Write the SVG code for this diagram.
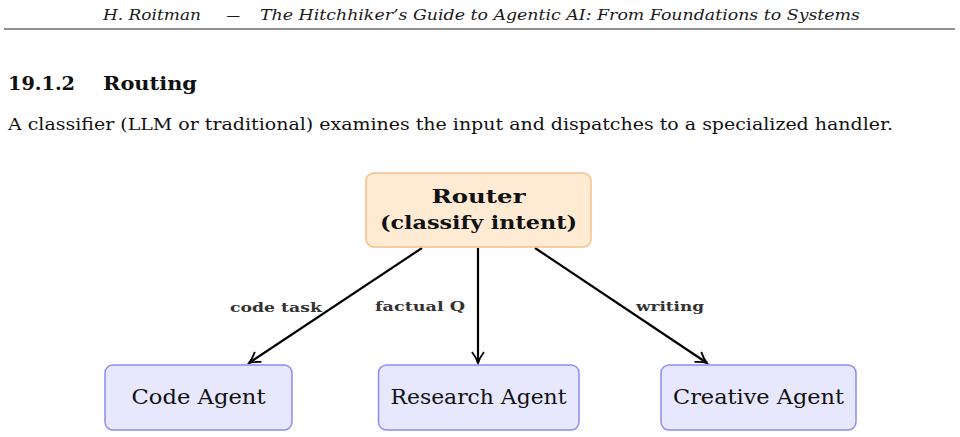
<svg xmlns="http://www.w3.org/2000/svg" width="960" height="437" viewBox="0 0 960 437">
<style>
text{font-family:"DejaVu Serif","Liberation Serif",serif}
.hdr{font-style:italic;font-size:15px;fill:#1a1a1a}
.sec{font-weight:bold;font-size:19px;fill:#111}
.para{font-size:16px;fill:#111}
.router{fill:#FFEAD3;stroke:#F7BE86;stroke-width:1.5}
.agent{fill:#E7E7FD;stroke:#8C8CF7;stroke-width:1.5}
.rt{font-weight:bold;font-size:19px;fill:#111;text-anchor:middle}
.at{font-size:20px;fill:#111;text-anchor:middle}
.lbl{font-weight:bold;font-size:13px;fill:#333}
.edge{stroke:#000;stroke-width:2.2;fill:none;marker-end:url(#arr)}
</style>
<defs>
<marker id="arr" viewBox="0 0 14 14" refX="12" refY="7" markerWidth="14" markerHeight="14" markerUnits="userSpaceOnUse" orient="auto">
<path d="M1,1 Q7,5.5 12,7 Q7,8.5 1,13" fill="none" stroke="#000" stroke-width="1.8"/>
</marker>
</defs>
<text class="hdr" x="103" y="20" textLength="98" lengthAdjust="spacingAndGlyphs">H. Roitman</text>
<text class="hdr" x="226.5" y="20" textLength="13.5" lengthAdjust="spacingAndGlyphs">—</text>
<text class="hdr" x="260" y="20" textLength="600" lengthAdjust="spacingAndGlyphs">The Hitchhiker’s Guide to Agentic AI: From Foundations to Systems</text>
<line x1="4" y1="29" x2="955" y2="29" stroke="#222" stroke-width="1"/>
<text class="sec" x="8" y="90" textLength="67" lengthAdjust="spacingAndGlyphs">19.1.2</text>
<text class="sec" x="103" y="90" textLength="94" lengthAdjust="spacingAndGlyphs">Routing</text>
<text class="para" x="8" y="130" textLength="885" lengthAdjust="spacingAndGlyphs">A classifier (LLM or traditional) examines the input and dispatches to a specialized handler.</text>
<g id="connectors">
<line class="edge" x1="422" y1="248" x2="249" y2="363"/>
<line class="edge" x1="478" y1="248" x2="478" y2="363"/>
<line class="edge" x1="535" y1="248" x2="707" y2="363"/>
<text class="lbl" x="230" y="312" textLength="92" lengthAdjust="spacingAndGlyphs">code task</text>
<text class="lbl" x="375" y="311" textLength="90" lengthAdjust="spacingAndGlyphs">factual Q</text>
<text class="lbl" x="636" y="311" textLength="68" lengthAdjust="spacingAndGlyphs">writing</text>
</g>
<g id="router">
<rect class="router" x="366" y="173" width="225" height="74" rx="8"/>
<text class="rt" x="478.5" y="203" textLength="94" lengthAdjust="spacingAndGlyphs">Router</text>
<text class="rt" x="478.5" y="229" textLength="197" lengthAdjust="spacingAndGlyphs">(classify intent)</text>
</g>
<g id="code-agent">
<rect class="agent" x="105" y="365" width="187" height="65" rx="8"/>
<text class="at" x="198.5" y="404" textLength="134" lengthAdjust="spacingAndGlyphs">Code Agent</text>
</g>
<g id="research-agent">
<rect class="agent" x="378.5" y="365" width="200.5" height="65" rx="8"/>
<text class="at" x="478.5" y="404" textLength="176" lengthAdjust="spacingAndGlyphs">Research Agent</text>
</g>
<g id="creative-agent">
<rect class="agent" x="661" y="365" width="195" height="65" rx="8"/>
<text class="at" x="758.5" y="404" textLength="171" lengthAdjust="spacingAndGlyphs">Creative Agent</text>
</g>
</svg>
